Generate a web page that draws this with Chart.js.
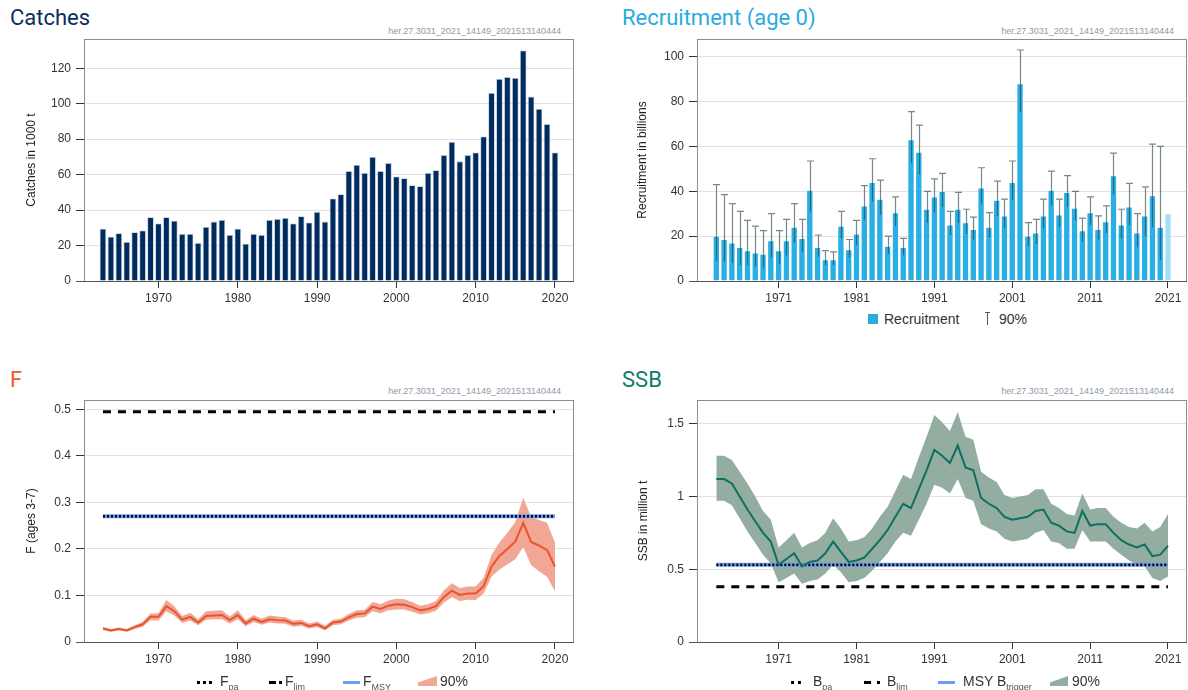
<!DOCTYPE html>
<html>
<head>
<meta charset="utf-8">
<script src="https://cdn.jsdelivr.net/npm/chart.js@4.4.1/dist/chart.umd.min.js"></script>
<style>
  body { margin: 0; width: 1188px; height: 690px; position: relative; background: #fff; overflow: hidden;
         font-family: "Liberation Sans", Arial, sans-serif; }
  .title { position: absolute; font-family: Roboto, "Liberation Sans", sans-serif; font-size: 22px; line-height: 24px; }
  .wm { position: absolute; font-size: 9px; line-height: 11px; color: #8d9bab; white-space: nowrap; }
  canvas { position: absolute; }
  .leg { position: absolute; font-size: 14px; color: #333; white-space: nowrap; line-height: 16px; }
  .leg sub { font-size: 9px; color: #555; vertical-align: -4px; }
  .sym { position: absolute; }
</style>
</head>
<body>

<div class="title" style="left:10px;top:6px;color:#0b2d5b">Catches</div>
<div class="title" style="left:622px;top:6px;color:#29abe2">Recruitment (age 0)</div>
<div class="title" style="left:10px;top:368px;color:#f05a28">F</div>
<div class="title" style="left:622px;top:368px;color:#0f7b68">SSB</div>

<div class="wm" style="right:627px;top:26px">her.27.3031_2021_14149_2021513140444</div>
<div class="wm" style="right:14px;top:26px">her.27.3031_2021_14149_2021513140444</div>
<div class="wm" style="right:627px;top:386px">her.27.3031_2021_14149_2021513140444</div>
<div class="wm" style="right:14px;top:386px">her.27.3031_2021_14149_2021513140444</div>

<canvas id="catches" width="594" height="295" style="left:0;top:20px"></canvas>
<canvas id="recruit" width="588" height="290" style="left:600px;top:20px"></canvas>
<canvas id="fish" width="594" height="295" style="left:0;top:380px"></canvas>
<canvas id="ssb" width="588" height="295" style="left:600px;top:380px"></canvas>

<!-- recruitment legend -->
<div class="sym" style="left:868px;top:314px;width:10px;height:10px;background:#29abe2"></div>
<div class="leg" style="left:884px;top:311px">Recruitment</div>
<div class="sym" style="left:987px;top:312px;width:1px;height:13px;background:#555"></div>
<div class="sym" style="left:985px;top:312px;width:5px;height:1px;background:#555"></div>
<div class="leg" style="left:999px;top:311px">90%</div>

<!-- F legend -->
<div class="sym" style="left:197px;top:681px;width:15px;border-top:3px dotted #000"></div>
<div class="leg" style="left:220px;top:673px">F<sub>pa</sub></div>
<div class="sym" style="left:269px;top:681px;width:7px;height:3px;background:#000"></div>
<div class="sym" style="left:279px;top:681px;width:3px;height:3px;background:#000"></div>
<div class="leg" style="left:285px;top:673px">F<sub>lim</sub></div>
<div class="sym" style="left:343px;top:681px;width:17px;height:3px;background:#6f9cf0"></div>
<div class="leg" style="left:363px;top:673px">F<sub>MSY</sub></div>
<div class="sym" style="left:418px;top:676px;width:19px;height:10px;background:#f2a696;clip-path:polygon(0 65%,100% 0,100% 100%,0 100%)"></div>
<div class="leg" style="left:440px;top:673px">90%</div>

<!-- SSB legend -->
<div class="sym" style="left:791px;top:681px;width:10px;border-top:3px dotted #000"></div>
<div class="leg" style="left:813px;top:673px">B<sub>pa</sub></div>
<div class="sym" style="left:864px;top:681px;width:7px;height:3px;background:#000"></div>
<div class="sym" style="left:877px;top:681px;width:3px;height:3px;background:#000"></div>
<div class="leg" style="left:887px;top:673px">B<sub>lim</sub></div>
<div class="sym" style="left:938px;top:681px;width:17px;height:3px;background:#6f9cf0"></div>
<div class="leg" style="left:963px;top:673px">MSY B<sub>trigger</sub></div>
<div class="sym" style="left:1050px;top:676px;width:18px;height:10px;background:#93ada1;clip-path:polygon(0 65%,100% 0,100% 100%,0 100%)"></div>
<div class="leg" style="left:1072px;top:673px">90%</div>

<script>
const years = [1963, 1964, 1965, 1966, 1967, 1968, 1969, 1970, 1971, 1972, 1973, 1974, 1975, 1976, 1977,
  1978, 1979, 1980, 1981, 1982, 1983, 1984, 1985, 1986, 1987, 1988, 1989, 1990, 1991, 1992, 1993, 1994,
  1995, 1996, 1997, 1998, 1999, 2000, 2001, 2002, 2003, 2004, 2005, 2006, 2007, 2008, 2009, 2010, 2011,
  2012, 2013, 2014, 2015, 2016, 2017, 2018, 2019, 2020, 2021];
const catchYears = years.slice(0, 58); // 1963-2020

// catches, 1000 t
const catches = [29.5, 25, 27, 22, 27.5, 28.5, 36, 32.5, 36, 34, 26.5, 26.5, 21.5, 30.5, 33.5, 34.5, 26, 29.5,
  21, 26.5, 26, 34.5, 35, 35.5, 32.5, 36.5, 33, 39, 33.5, 46.5, 49, 62, 65.5, 61, 70, 62, 66.5, 59, 58, 54,
  53.5, 61, 62.5, 71, 78.5, 67.5, 71, 72.5, 81.5, 106, 114, 115, 114.5, 130, 104, 97, 88.5, 72.5];

// recruitment age 0, billions (2021 has no interval)
const recruit = [20, 18.5, 17, 15, 13.5, 12.5, 12, 18, 13.5, 18, 24, 19, 40.5, 15, 9.5, 9.5, 24.5, 14, 21,
  33.5, 44, 36.5, 15.5, 30.5, 15, 63, 57.5, 32, 37.5, 40, 25, 32, 26, 23, 41.5, 24, 36, 29, 44, 88, 20, 21.5,
  29, 40.5, 29.5, 39.5, 32.5, 22.5, 30.5, 23, 26.5, 47, 25, 33, 21.5, 29, 38, 24, 30];
const recruitHigh = [43, 38.5, 34.5, 31, 27, 24.5, 22.5, 30, 22.5, 27.5, 34.5, 27.5, 53.5, 20.5, 13.5, 13,
  31, 18.5, 27, 42.5, 54.5, 45, 20, 37.5, 19, 75.5, 69.5, 40, 45.5, 48, 31, 39.5, 32, 28.5, 50.5, 30.5, 44.5,
  36.5, 53.5, 103, 26, 27.5, 36.5, 49, 36.5, 47, 40, 28, 37.5, 29, 33.5, 57, 32, 43.5, 30, 42, 61, 60, null];
const recruitLow = [9, 8.5, 8, 7, 7, 6.5, 6, 10.5, 7.5, 11.5, 17, 13, 31, 11, 7, 7, 19, 10.5, 16, 27, 35.5,
  29.5, 12, 24.5, 11.5, 52.5, 47.5, 26, 30.5, 33, 20.5, 26, 21, 18.5, 34.5, 19.5, 29, 23.5, 36, 75.5, 15.5,
  16.5, 23.5, 33.5, 24, 33, 27, 17.5, 25, 18.5, 21.5, 38.5, 19, 25, 15, 20, 24, 9.5, null];

// fishing mortality, ages 3-7
const fMean = [0.029, 0.025, 0.028, 0.025, 0.032, 0.038, 0.054, 0.054, 0.077, 0.066, 0.048, 0.054, 0.042,
  0.056, 0.057, 0.058, 0.047, 0.058, 0.040, 0.050, 0.043, 0.049, 0.047, 0.046, 0.039, 0.041, 0.034, 0.038,
  0.029, 0.042, 0.044, 0.053, 0.060, 0.061, 0.076, 0.071, 0.078, 0.081, 0.080, 0.075, 0.068, 0.071, 0.077,
  0.097, 0.110, 0.101, 0.104, 0.104, 0.120, 0.162, 0.185, 0.200, 0.216, 0.256, 0.215, 0.207, 0.198, 0.162];
const fHigh = [0.032, 0.028, 0.031, 0.028, 0.036, 0.043, 0.061, 0.062, 0.090, 0.077, 0.056, 0.063, 0.049,
  0.066, 0.067, 0.068, 0.055, 0.068, 0.047, 0.058, 0.050, 0.057, 0.055, 0.053, 0.046, 0.048, 0.040, 0.044,
  0.035, 0.048, 0.050, 0.060, 0.068, 0.069, 0.086, 0.081, 0.089, 0.093, 0.092, 0.086, 0.078, 0.081, 0.088,
  0.111, 0.126, 0.116, 0.119, 0.119, 0.138, 0.187, 0.214, 0.235, 0.258, 0.310, 0.268, 0.262, 0.256, 0.213];
const fLow = [0.026, 0.022, 0.025, 0.022, 0.028, 0.033, 0.047, 0.046, 0.066, 0.057, 0.041, 0.046, 0.036,
  0.048, 0.049, 0.049, 0.040, 0.049, 0.034, 0.043, 0.037, 0.042, 0.040, 0.039, 0.033, 0.035, 0.029, 0.032,
  0.025, 0.036, 0.038, 0.046, 0.052, 0.053, 0.066, 0.062, 0.068, 0.070, 0.070, 0.065, 0.059, 0.062, 0.067,
  0.085, 0.096, 0.088, 0.091, 0.090, 0.104, 0.140, 0.156, 0.167, 0.178, 0.204, 0.165, 0.152, 0.140, 0.109];

// spawning stock biomass, million t
const ssb = [1.12, 1.12, 1.09, 1.00, 0.91, 0.83, 0.75, 0.69, 0.53, 0.57, 0.61, 0.52, 0.55, 0.56, 0.61, 0.69,
  0.62, 0.55, 0.56, 0.58, 0.64, 0.70, 0.77, 0.86, 0.95, 0.92, 1.05, 1.18, 1.32, 1.28, 1.23, 1.35, 1.20, 1.18,
  0.99, 0.95, 0.92, 0.86, 0.84, 0.85, 0.86, 0.90, 0.91, 0.82, 0.80, 0.76, 0.75, 0.90, 0.80, 0.81, 0.81, 0.75,
  0.70, 0.67, 0.65, 0.67, 0.59, 0.60, 0.66];
const ssbHigh = [1.28, 1.28, 1.25, 1.17, 1.09, 1.00, 0.90, 0.84, 0.65, 0.70, 0.75, 0.65, 0.68, 0.70, 0.75,
  0.85, 0.78, 0.69, 0.70, 0.72, 0.78, 0.86, 0.93, 1.04, 1.15, 1.12, 1.27, 1.41, 1.56, 1.51, 1.45, 1.58, 1.41,
  1.39, 1.17, 1.13, 1.10, 1.01, 0.99, 1.00, 1.01, 1.05, 1.05, 0.95, 0.92, 0.88, 0.87, 1.02, 0.91, 0.92, 0.92,
  0.86, 0.82, 0.79, 0.78, 0.82, 0.76, 0.79, 0.88];
const ssbLow = [0.97, 0.97, 0.94, 0.85, 0.76, 0.68, 0.60, 0.54, 0.41, 0.44, 0.47, 0.40, 0.42, 0.43, 0.47,
  0.53, 0.48, 0.41, 0.42, 0.44, 0.49, 0.55, 0.61, 0.69, 0.75, 0.73, 0.84, 0.95, 1.08, 1.06, 1.02, 1.12, 0.99,
  0.97, 0.81, 0.78, 0.76, 0.71, 0.69, 0.70, 0.71, 0.75, 0.77, 0.69, 0.68, 0.64, 0.64, 0.77, 0.69, 0.69, 0.69,
  0.64, 0.60, 0.56, 0.53, 0.52, 0.44, 0.42, 0.45];

// reference points
const F_PA = 0.27, F_LIM = 0.495, F_MSY = 0.27;
const B_PA = 0.53, B_LIM = 0.38, MSY_BTRIGGER = 0.53;

// axis ticks
const ticksLeftX = [1970, 1980, 1990, 2000, 2010, 2020];
const ticksRightX = [1971, 1981, 1991, 2001, 2011, 2021];
const catchTicks = [0, 20, 40, 60, 80, 100, 120];
const recruitTicks = [0, 20, 40, 60, 80, 100];
const fTicks = [0, 0.1, 0.2, 0.3, 0.4, 0.5];
const ssbTicks = [0, 0.5, 1, 1.5];

const pts = (xs, ys) => xs.map((x, i) => ({ x, y: ys[i] }));
const flat = (x0, x1, v) => [{ x: x0, y: v }, { x: x1, y: v }];

const frame = {
  id: 'frame',
  afterDraw(chart) {
    const { ctx, chartArea: a } = chart;
    ctx.save();
    ctx.lineWidth = 1;
    ctx.strokeStyle = '#8c8c8c';
    ctx.strokeRect(Math.round(a.left) + 0.5, Math.round(a.top) + 0.5,
      Math.round(a.right - a.left) - 1, Math.round(a.bottom - a.top));
    ctx.strokeStyle = '#555';
    ctx.beginPath();
    ctx.moveTo(a.left - 8, Math.round(a.bottom) + 0.5);
    ctx.lineTo(a.right, Math.round(a.bottom) + 0.5);
    ctx.stroke();
    ctx.restore();
  }
};

const errorBars = {
  id: 'errorBars',
  afterDatasetsDraw(chart) {
    const { ctx, scales: { x, y } } = chart;
    ctx.save();
    ctx.strokeStyle = 'rgba(40,62,66,0.62)';
    ctx.lineWidth = 1.2;
    recruitHigh.forEach((hi, i) => {
      if (hi == null) return;
      const px = Math.round(x.getPixelForValue(years[i])) + 0.5;
      const top = y.getPixelForValue(hi);
      const bot = y.getPixelForValue(recruitLow[i]);
      ctx.beginPath();
      ctx.moveTo(px, bot);
      ctx.lineTo(px, top);
      ctx.moveTo(px - 3.5, top);
      ctx.lineTo(px + 3.5, top);
      ctx.stroke();
    });
    ctx.restore();
  }
};

// builds scales so that the plot area lands where the reference has it
function scales(canvas, area, xMin, xMax, xTicks, yMax, yTicks, yTitle, titleOffset) {
  const h = canvas.height;
  const tickFont = { family: '"Liberation Sans", Arial, sans-serif', size: 12 };
  return {
    layout: { padding: { left: 0, top: area.top, right: canvas.width - area.right, bottom: 0 } },
    scales: {
      x: {
        type: 'linear', min: xMin, max: xMax, offset: false,
        afterBuildTicks: s => { s.ticks = xTicks.map(v => ({ value: v })); },
        afterFit: s => { s.height = h - area.bottom; },
        ticks: { color: '#333', font: tickFont, padding: 3, maxRotation: 0, callback: v => String(v) },
        grid: { drawOnChartArea: false, offset: false, tickColor: '#333', tickLength: 7 },
        border: { display: false }
      },
      y: {
        min: 0, max: yMax,
        afterBuildTicks: s => { s.ticks = yTicks.map(v => ({ value: v })); },
        afterFit: s => { s.width = area.left; },
        ticks: { color: '#333', font: tickFont, padding: 5, callback: v => String(v) },
        grid: { color: '#e2e2e2', tickColor: '#333', tickLength: 8 },
        border: { display: false },
        title: { display: true, text: yTitle, color: '#222', font: tickFont, padding: { top: titleOffset, bottom: 0 } }
      }
    }
  };
}

function common(extra) {
  return Object.assign({
    responsive: false,
    animation: false,
    devicePixelRatio: 1,
    plugins: { legend: { display: false }, tooltip: { enabled: false } },
    elements: { point: { radius: 0 }, line: { tension: 0 } }
  }, extra);
}

// Catches
const c1 = document.getElementById('catches');
new Chart(c1, {
  type: 'bar',
  data: {
    datasets: [{
      data: pts(catchYears, catches),
      backgroundColor: '#002b5e',
      borderColor: '#b4c1d3',
      borderWidth: 0.8,
      barPercentage: 0.82,
      categoryPercentage: 1
    }]
  },
  options: common(scales(c1, { left: 84, top: 19, right: 574, bottom: 261 },
    1960.61, 2022.4, ticksLeftX, 136.5, catchTicks, 'Catches in 1000 t', 24)),
  plugins: [frame]
});

// Recruitment
const c2 = document.getElementById('recruit');
new Chart(c2, {
  type: 'bar',
  data: {
    datasets: [{
      data: pts(years, recruit),
      backgroundColor: ctx => ctx.dataIndex === years.length - 1 ? '#a3e0f8' : '#29afe4',
      borderColor: 'rgba(255,255,255,0.5)',
      borderWidth: 0.6,
      barPercentage: 0.84,
      categoryPercentage: 1
    }]
  },
  options: common(scales(c2, { left: 97, top: 19, right: 587, bottom: 261 },
    1960.52, 2023.44, ticksRightX, 107.9, recruitTicks, 'Recruitment in billions', 35)),
  plugins: [errorBars, frame]
});

// F
const c3 = document.getElementById('fish');
new Chart(c3, {
  type: 'line',
  data: {
    datasets: [
      { data: pts(catchYears, fMean), borderColor: '#e8552b', borderWidth: 2, order: 0 },
      { data: flat(1963, 2020, F_PA), borderColor: '#000', borderWidth: 2.5, borderDash: [2, 2], order: 1 },
      { data: flat(1963, 2020, F_LIM), borderColor: '#000', borderWidth: 3, borderDash: [8, 7], order: 1 },
      { data: flat(1963, 2020, F_MSY), borderColor: '#6f9cf0', borderWidth: 4, order: 2 },
      { data: pts(catchYears, fHigh), borderWidth: 0, borderColor: 'transparent', backgroundColor: '#f2a696', fill: '+1', order: 5 },
      { data: pts(catchYears, fLow), borderWidth: 0, borderColor: 'transparent', fill: false, order: 6 }
    ]
  },
  options: common(scales(c3, { left: 84, top: 20, right: 574, bottom: 262 },
    1960.61, 2022.4, ticksLeftX, 0.52, fTicks, 'F (ages 3-7)', 24)),
  plugins: [frame]
});

// SSB
const c4 = document.getElementById('ssb');
new Chart(c4, {
  type: 'line',
  data: {
    datasets: [
      { data: pts(years, ssb), borderColor: '#0d7060', borderWidth: 2, order: 0 },
      { data: flat(1963, 2021, B_PA), borderColor: '#000', borderWidth: 2.5, borderDash: [2, 2], order: 1 },
      { data: flat(1963, 2021, B_LIM), borderColor: '#000', borderWidth: 3, borderDash: [8, 7], order: 1 },
      { data: flat(1963, 2021, MSY_BTRIGGER), borderColor: '#6f9cf0', borderWidth: 4, order: 2 },
      { data: pts(years, ssbHigh), borderWidth: 0, borderColor: 'transparent', backgroundColor: '#93ada1', fill: '+1', order: 5 },
      { data: pts(years, ssbLow), borderWidth: 0, borderColor: 'transparent', fill: false, order: 6 }
    ]
  },
  options: common(scales(c4, { left: 97, top: 20, right: 587, bottom: 262 },
    1960.52, 2023.44, ticksRightX, 1.663, ssbTicks, 'SSB in million t', 36)),
  plugins: [frame]
});
</script>
</body>
</html>
